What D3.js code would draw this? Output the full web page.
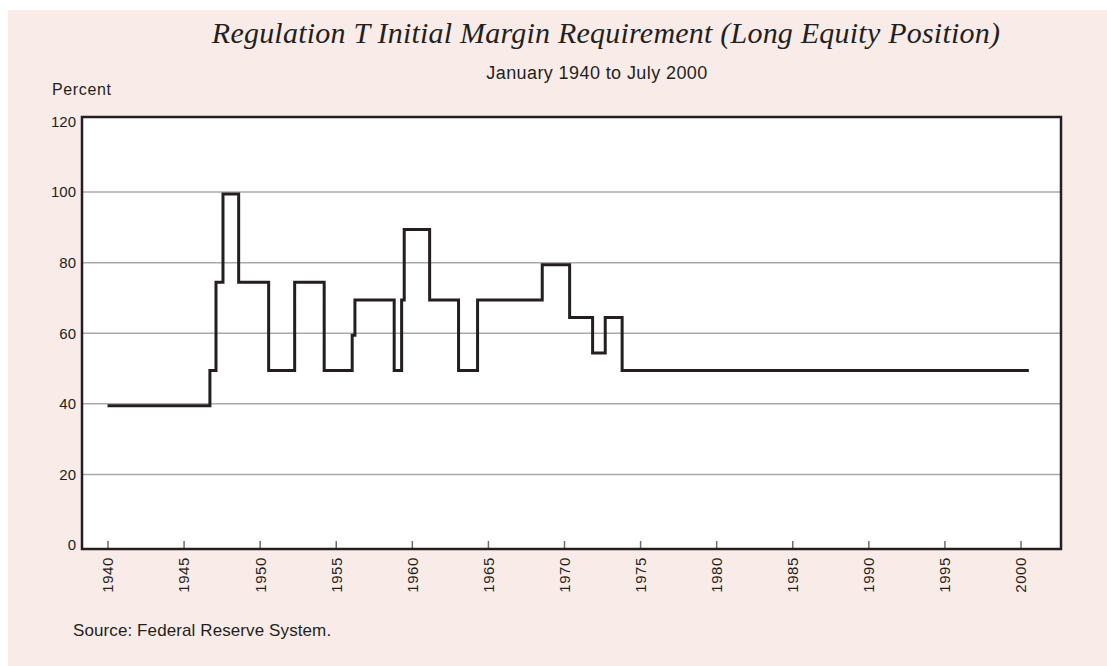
<!DOCTYPE html>
<html>
<head>
<meta charset="utf-8">
<script src="https://cdn.jsdelivr.net/npm/d3@7"></script>
<style>
  html, body { margin: 0; padding: 0; background: #ffffff; }
  svg { display: block; }
</style>
</head>
<body>
<div id="chart"></div>
<script>
// Dates (decimal years) at which the requirement changed, and the new rate
const changeDates = [1940.0, 1946.73, 1947.13, 1947.59, 1948.62, 1950.59, 1952.30, 1954.24,
    1956.08, 1956.26, 1958.84, 1959.33, 1959.50, 1961.17, 1963.07, 1964.32,
    1968.57, 1970.37, 1971.88, 1972.71, 1973.82];
const marginRates = [40, 50, 75, 100, 75, 50, 75, 50,
    60, 70, 50, 70, 90, 70, 50, 70,
    80, 65, 55, 65, 50];
const endDate = 2000.55;

const yearTicks = [1940, 1945, 1950, 1955, 1960, 1965, 1970, 1975, 1980, 1985, 1990, 1995, 2000];
const percentTicks = [0, 20, 40, 60, 80, 100, 120];

const titleText = 'Regulation T Initial Margin Requirement (Long Equity Position)';
const subtitleText = 'January 1940 to July 2000';
const sourceText = 'Source: Federal Reserve System.';

const width = 1107;
const height = 666;
const frame = { left: 82, top: 117, right: 1061, bottom: 549 };
const ink = '#231f20';
const sans = '"Liberation Sans", Arial, Helvetica, sans-serif';

const svg = d3.select('#chart')
    .append('svg')
    .attr('width', width)
    .attr('height', height);

svg.append('rect')
    .attr('x', 8).attr('y', 10)
    .attr('width', width - 8).attr('height', height - 10)
    .attr('fill', '#f9ece8');

const x = d3.scaleLinear().domain([1940, 2000]).range([107.5, 1020.5]);
const y = d3.scaleLinear().domain([0, 120]).range([545, 121.5]);

// stretch text horizontally to a target width with letter spacing
function fitSpacing(sel, target) {
    const len = sel.node().getComputedTextLength();
    const n = sel.text().length;
    sel.attr('letter-spacing', ((target - len) / (n - 1)).toFixed(2));
}

const title = svg.append('text')
    .attr('x', 606).attr('y', 43)
    .attr('text-anchor', 'middle')
    .attr('font-family', '"Palatino Linotype", "Book Antiqua", "Liberation Serif", serif')
    .attr('font-style', 'italic')
    .attr('font-size', 30)
    .attr('fill', ink)
    .text(titleText);
fitSpacing(title, 788);

const subtitle = svg.append('text')
    .attr('x', 597).attr('y', 79)
    .attr('text-anchor', 'middle')
    .attr('font-family', sans)
    .attr('font-size', 18)
    .attr('fill', ink)
    .text(subtitleText);
fitSpacing(subtitle, 221);

const unit = svg.append('text')
    .attr('x', 52).attr('y', 95)
    .attr('font-family', sans)
    .attr('font-size', 16)
    .attr('fill', ink)
    .text('Percent');
fitSpacing(unit, 59);

const source = svg.append('text')
    .attr('x', 73).attr('y', 636)
    .attr('font-family', sans)
    .attr('font-size', 17)
    .attr('fill', ink)
    .text(sourceText);
fitSpacing(source, 258);

// plot panel
svg.append('rect')
    .attr('x', frame.left).attr('y', frame.top)
    .attr('width', frame.right - frame.left)
    .attr('height', frame.bottom - frame.top)
    .attr('fill', '#ffffff');

svg.append('g')
    .selectAll('line')
    .data(percentTicks.filter((d) => d > 0 && d < 120))
    .enter()
    .append('line')
    .attr('x1', frame.left).attr('x2', frame.right)
    .attr('y1', (d) => y(d)).attr('y2', (d) => y(d))
    .attr('stroke', '#a9a9a9')
    .attr('stroke-width', 1.5);

// y labels
const yAxis = svg.append('g')
    .attr('transform', `translate(${frame.left - 6},0)`)
    .call(d3.axisLeft(y).tickValues(percentTicks).tickSize(0).tickPadding(0));
yAxis.select('.domain').remove();
yAxis.selectAll('text')
    .attr('font-family', sans)
    .attr('font-size', 15)
    .attr('fill', ink);

// x axis: ticks pointing up into the panel, labels rotated
const xAxis = svg.append('g')
    .attr('transform', `translate(0,${frame.bottom})`)
    .call(d3.axisBottom(x).tickValues(yearTicks).tickFormat(d3.format('d')).tickSize(-8));
xAxis.select('.domain').remove();
xAxis.selectAll('.tick line')
    .attr('stroke', '#6d6d6d')
    .attr('stroke-width', 1.5);
xAxis.selectAll('.tick text')
    .attr('font-family', sans)
    .attr('font-size', 15)
    .attr('letter-spacing', 0.6)
    .attr('fill', ink)
    .attr('text-anchor', 'end')
    .attr('transform', 'rotate(-90)')
    .attr('x', -8)
    .attr('y', 0)
    .attr('dy', '0.36em');

// step line
const points = changeDates.map((d, i) => [d, marginRates[i]]);
points.push([endDate, marginRates[marginRates.length - 1]]);

const line = d3.line()
    .x((d) => x(d[0]))
    .y((d) => y(d[1]))
    .curve(d3.curveStepAfter);

svg.append('path')
    .datum(points)
    .attr('transform', 'translate(0,2)')
    .attr('d', line)
    .attr('fill', 'none')
    .attr('stroke', ink)
    .attr('stroke-width', 3)
    .attr('stroke-linejoin', 'miter');

// frame border
svg.append('rect')
    .attr('x', frame.left).attr('y', frame.top)
    .attr('width', frame.right - frame.left)
    .attr('height', frame.bottom - frame.top)
    .attr('fill', 'none')
    .attr('stroke', ink)
    .attr('stroke-width', 2.5);
</script>
</body>
</html>
